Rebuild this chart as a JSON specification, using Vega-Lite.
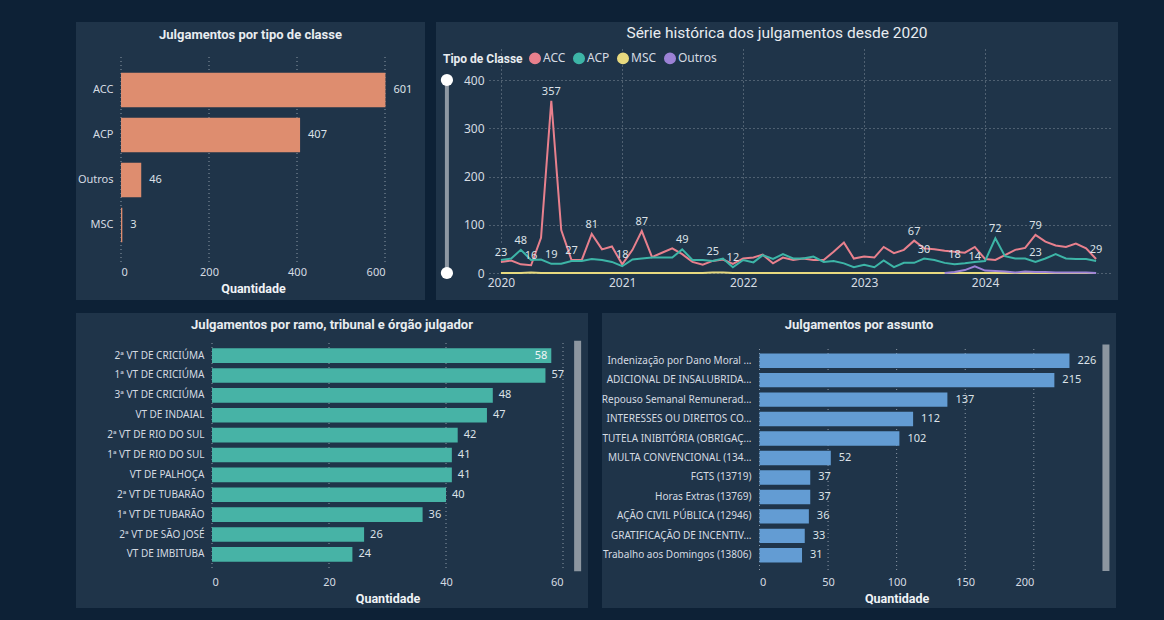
{
  "$schema": "https://vega.github.io/schema/vega-lite/v6.json",
  "background": "#0d2136",
  "padding": {"left": 76, "top": 22, "right": 46, "bottom": 12},
  "config": {
    "font": "Noto Sans",
    "view": {"fill": "#1f3449", "stroke": null},
    "axis": {
      "labelColor": "#D5DBE2", "labelFont": "Noto Sans", "labelFontSize": 11,
      "titleColor": "#F0F3F6", "titleFont": "Roboto", "titleFontWeight": "bold", "titleFontSize": 12.5,
      "gridColor": "#A9B3BE", "gridDash": [1, 3], "gridOpacity": 0.7,
      "domain": false, "ticks": false
    },
    "title": {"color": "#E8ECF0", "font": "Roboto", "fontWeight": "bold", "fontSize": 13, "frame": "group", "anchor": "middle"}
  },
  "datasets": {
    "classe": [
      {"classe": "ACC", "qtd": 601},
      {"classe": "ACP", "qtd": 407},
      {"classe": "Outros", "qtd": 46},
      {"classe": "MSC", "qtd": 3}
    ],
    "orgao": [
      {"orgao": "2ª VT DE CRICIÚMA", "qtd": 58},
      {"orgao": "1ª VT DE CRICIÚMA", "qtd": 57},
      {"orgao": "3ª VT DE CRICIÚMA", "qtd": 48},
      {"orgao": "VT DE INDAIAL", "qtd": 47},
      {"orgao": "2ª VT DE RIO DO SUL", "qtd": 42},
      {"orgao": "1ª VT DE RIO DO SUL", "qtd": 41},
      {"orgao": "VT DE PALHOÇA", "qtd": 41},
      {"orgao": "2ª VT DE TUBARÃO", "qtd": 40},
      {"orgao": "1ª VT DE TUBARÃO", "qtd": 36},
      {"orgao": "2ª VT DE SÃO JOSÉ", "qtd": 26},
      {"orgao": "VT DE IMBITUBA", "qtd": 24}
    ],
    "assunto": [
      {"assunto": "Indenização por Dano Moral ...", "qtd": 226},
      {"assunto": "ADICIONAL DE INSALUBRIDA...", "qtd": 215},
      {"assunto": "Repouso Semanal Remunerad...", "qtd": 137},
      {"assunto": "INTERESSES OU DIREITOS CO...", "qtd": 112},
      {"assunto": "TUTELA INIBITÓRIA (OBRIGAÇ...", "qtd": 102},
      {"assunto": "MULTA CONVENCIONAL (134...", "qtd": 52},
      {"assunto": "FGTS (13719)", "qtd": 37},
      {"assunto": "Horas Extras (13769)", "qtd": 37},
      {"assunto": "AÇÃO CIVIL PÚBLICA (12946)", "qtd": 36},
      {"assunto": "GRATIFICAÇÃO DE INCENTIV...", "qtd": 33},
      {"assunto": "Trabalho aos Domingos (13806)", "qtd": 31}
    ],
    "serie": [
      {"mes": "2020-01-01", "ACC": 23, "ACP": 27, "MSC": 0, "Outros": null},
      {"mes": "2020-02-01", "ACC": 26, "ACP": 30, "MSC": 0, "Outros": null},
      {"mes": "2020-03-01", "ACC": 18, "ACP": 48, "MSC": 0, "Outros": null},
      {"mes": "2020-04-01", "ACC": 16, "ACP": 27, "MSC": 1, "Outros": null},
      {"mes": "2020-05-01", "ACC": 73, "ACP": 28, "MSC": 0, "Outros": null},
      {"mes": "2020-06-01", "ACC": 357, "ACP": 19, "MSC": 0, "Outros": null},
      {"mes": "2020-07-01", "ACC": 89, "ACP": 19, "MSC": 0, "Outros": null},
      {"mes": "2020-08-01", "ACC": 27, "ACP": 25, "MSC": 0, "Outros": null},
      {"mes": "2020-09-01", "ACC": 27, "ACP": 25, "MSC": 0, "Outros": null},
      {"mes": "2020-10-01", "ACC": 81, "ACP": 29, "MSC": 0, "Outros": null},
      {"mes": "2020-11-01", "ACC": 49, "ACP": 27, "MSC": 0, "Outros": null},
      {"mes": "2020-12-01", "ACC": 55, "ACP": 23, "MSC": 0, "Outros": null},
      {"mes": "2021-01-01", "ACC": 18, "ACP": 14, "MSC": 0, "Outros": null},
      {"mes": "2021-02-01", "ACC": 48, "ACP": 28, "MSC": 0, "Outros": null},
      {"mes": "2021-03-01", "ACC": 87, "ACP": 30, "MSC": 0, "Outros": null},
      {"mes": "2021-04-01", "ACC": 33, "ACP": 32, "MSC": 0, "Outros": null},
      {"mes": "2021-05-01", "ACC": 42, "ACP": 32, "MSC": 0, "Outros": null},
      {"mes": "2021-06-01", "ACC": 51, "ACP": 32, "MSC": 0, "Outros": null},
      {"mes": "2021-07-01", "ACC": 39, "ACP": 49, "MSC": 0, "Outros": null},
      {"mes": "2021-08-01", "ACC": 23, "ACP": 27, "MSC": 0, "Outros": null},
      {"mes": "2021-09-01", "ACC": 17, "ACP": 27, "MSC": 0, "Outros": null},
      {"mes": "2021-10-01", "ACC": 25, "ACP": 25, "MSC": 1, "Outros": null},
      {"mes": "2021-11-01", "ACC": 28, "ACP": 30, "MSC": 1, "Outros": null},
      {"mes": "2021-12-01", "ACC": 19, "ACP": 12, "MSC": 0, "Outros": null},
      {"mes": "2022-01-01", "ACC": 30, "ACP": 27, "MSC": 0, "Outros": null},
      {"mes": "2022-02-01", "ACC": 32, "ACP": 22, "MSC": 0, "Outros": null},
      {"mes": "2022-03-01", "ACC": 38, "ACP": 37, "MSC": 0, "Outros": null},
      {"mes": "2022-04-01", "ACC": 20, "ACP": 29, "MSC": 0, "Outros": null},
      {"mes": "2022-05-01", "ACC": 32, "ACP": 39, "MSC": 0, "Outros": null},
      {"mes": "2022-06-01", "ACC": 27, "ACP": 30, "MSC": 0, "Outros": null},
      {"mes": "2022-07-01", "ACC": 30, "ACP": 30, "MSC": 0, "Outros": null},
      {"mes": "2022-08-01", "ACC": 27, "ACP": 34, "MSC": 0, "Outros": null},
      {"mes": "2022-09-01", "ACC": 27, "ACP": 23, "MSC": 0, "Outros": null},
      {"mes": "2022-10-01", "ACC": 44, "ACP": 25, "MSC": 0, "Outros": null},
      {"mes": "2022-11-01", "ACC": 63, "ACP": 20, "MSC": 0, "Outros": null},
      {"mes": "2022-12-01", "ACC": 30, "ACP": 12, "MSC": 0, "Outros": null},
      {"mes": "2023-01-01", "ACC": 34, "ACP": 17, "MSC": 0, "Outros": null},
      {"mes": "2023-02-01", "ACC": 32, "ACP": 12, "MSC": 0, "Outros": null},
      {"mes": "2023-03-01", "ACC": 54, "ACP": 26, "MSC": 0, "Outros": null},
      {"mes": "2023-04-01", "ACC": 41, "ACP": 12, "MSC": 0, "Outros": null},
      {"mes": "2023-05-01", "ACC": 48, "ACP": 21, "MSC": 0, "Outros": null},
      {"mes": "2023-06-01", "ACC": 67, "ACP": 21, "MSC": 0, "Outros": null},
      {"mes": "2023-07-01", "ACC": 51, "ACP": 30, "MSC": 0, "Outros": null},
      {"mes": "2023-08-01", "ACC": 49, "ACP": 27, "MSC": 0, "Outros": null},
      {"mes": "2023-09-01", "ACC": 46, "ACP": 21, "MSC": 0, "Outros": 0},
      {"mes": "2023-10-01", "ACC": 44, "ACP": 18, "MSC": 0, "Outros": 2},
      {"mes": "2023-11-01", "ACC": 42, "ACP": 20, "MSC": 0, "Outros": 6},
      {"mes": "2023-12-01", "ACC": 54, "ACP": 23, "MSC": 0, "Outros": 14},
      {"mes": "2024-01-01", "ACC": 29, "ACP": 25, "MSC": 0, "Outros": 5},
      {"mes": "2024-02-01", "ACC": 27, "ACP": 72, "MSC": 0, "Outros": 4},
      {"mes": "2024-03-01", "ACC": 37, "ACP": 35, "MSC": 0, "Outros": 3},
      {"mes": "2024-04-01", "ACC": 48, "ACP": 30, "MSC": 0, "Outros": 1},
      {"mes": "2024-05-01", "ACC": 52, "ACP": 30, "MSC": 0, "Outros": 3},
      {"mes": "2024-06-01", "ACC": 79, "ACP": 23, "MSC": 0, "Outros": 2},
      {"mes": "2024-07-01", "ACC": 65, "ACP": 30, "MSC": 0, "Outros": 2},
      {"mes": "2024-08-01", "ACC": 57, "ACP": 39, "MSC": 0, "Outros": 1},
      {"mes": "2024-09-01", "ACC": 54, "ACP": 30, "MSC": 0, "Outros": 1},
      {"mes": "2024-10-01", "ACC": 61, "ACP": 29, "MSC": 0, "Outros": 1},
      {"mes": "2024-11-01", "ACC": 51, "ACP": 29, "MSC": 0, "Outros": 1},
      {"mes": "2024-12-01", "ACC": 29, "ACP": 25, "MSC": 0, "Outros": 0}
    ],
    "rotulos": [
      {"mes": "2020-01-01", "tipo": "ACC", "qtd": 23},
      {"mes": "2020-03-01", "tipo": "ACP", "qtd": 48},
      {"mes": "2020-04-01", "tipo": "ACC", "qtd": 16},
      {"mes": "2020-06-01", "tipo": "ACC", "qtd": 357},
      {"mes": "2020-06-01", "tipo": "ACP", "qtd": 19},
      {"mes": "2020-08-01", "tipo": "ACC", "qtd": 27},
      {"mes": "2020-10-01", "tipo": "ACC", "qtd": 81},
      {"mes": "2021-01-01", "tipo": "ACC", "qtd": 18},
      {"mes": "2021-03-01", "tipo": "ACC", "qtd": 87},
      {"mes": "2021-07-01", "tipo": "ACP", "qtd": 49},
      {"mes": "2021-10-01", "tipo": "ACC", "qtd": 25},
      {"mes": "2021-12-01", "tipo": "ACP", "qtd": 12},
      {"mes": "2023-06-01", "tipo": "ACC", "qtd": 67},
      {"mes": "2023-07-01", "tipo": "ACP", "qtd": 30},
      {"mes": "2023-10-01", "tipo": "ACP", "qtd": 18},
      {"mes": "2023-12-01", "tipo": "Outros", "qtd": 14},
      {"mes": "2024-02-01", "tipo": "ACP", "qtd": 72},
      {"mes": "2024-06-01", "tipo": "ACC", "qtd": 79},
      {"mes": "2024-06-01", "tipo": "ACP", "qtd": 23},
      {"mes": "2024-12-01", "tipo": "ACC", "qtd": 29}
    ]
  },
  "vconcat": [
    {
      "hconcat": [
        {
          "width": 349, "height": 278,
          "title": {"text": "Julgamentos por tipo de classe", "offset": -20},
          "layer": [
            {
              "data": {"values": [{"marca": 0}, {"marca": 200}, {"marca": 400}, {"marca": 600}]},
              "mark": {"type": "rule", "color": "#A9B3BE", "opacity": 0.8, "strokeDash": [1, 3], "strokeWidth": 1},
              "encoding": {
                "x": {"field": "marca", "type": "quantitative",
                  "axis": {"title": "Quantidade", "values": [0, 200, 400, 600], "offset": -37, "labelPadding": 3, "titlePadding": 5, "grid": false}},
                "y": {"datum": 0, "type": "quantitative", "scale": {"domain": [0, 1], "range": [35, 241], "nice": false, "zero": false}, "axis": null},
                "y2": {"datum": 1}
              }
            },
            {
              "data": {"name": "classe"},
              "encoding": {
                "y": {"field": "classe", "type": "nominal", "sort": null,
                  "scale": {"range": [35, 236], "paddingInner": 0.233, "paddingOuter": 0.35},
                  "axis": {"title": null, "offset": -45, "labelPadding": 8, "grid": false, "labelFontSize": 11}},
                "x": {"field": "qtd", "type": "quantitative",
                  "scale": {"domain": [0, 600], "range": [45, 309], "nice": false},
                  "axis": {"title": "Quantidade", "values": [0, 200, 400, 600], "offset": -37, "labelPadding": 3, "titlePadding": 5, "grid": false}}
              },
              "layer": [
                {"mark": {"type": "bar", "color": "#DE8D6F"}},
                {"mark": {"type": "text", "align": "left", "baseline": "middle", "dx": 8, "color": "#DCE2E8", "fontSize": 11},
                  "encoding": {"text": {"field": "qtd", "type": "quantitative"}}}
              ]
            }
          ],
          "resolve": {"scale": {"y": "independent"}}
        },
        {
          "width": 682, "height": 278,
          "title": {"text": "Série histórica dos julgamentos desde 2020", "offset": -19, "fontSize": 15.5, "fontWeight": "normal"},
          "layer": [
            {
              "data": {"name": "serie"},
              "transform": [
                {"fold": ["ACC", "ACP", "MSC", "Outros"], "as": ["tipo", "qtd"]},
                {"filter": "isValid(datum.qtd)"}
              ],
              "mark": {"type": "line", "strokeWidth": 2},
              "encoding": {
                "x": {"field": "mes", "type": "temporal",
                  "scale": {"type": "utc", "domain": [{"year": 2019, "month": 11, "date": 26, "utc": true}, {"year": 2025, "month": 1, "date": 12, "utc": true}], "range": [53, 674]},
                  "axis": {"title": null, "format": "%Y", "labelFlush": false, "offset": -26, "labelPadding": 3, "labelFontSize": 12,
                    "values": [{"year": 2020, "utc": true}, {"year": 2021, "utc": true}, {"year": 2022, "utc": true}, {"year": 2023, "utc": true}, {"year": 2024, "utc": true}]}},
                "y": {"field": "qtd", "type": "quantitative",
                  "scale": {"domain": [0, 400], "range": [251, 58], "nice": false},
                  "axis": {"title": null, "values": [0, 100, 200, 300, 400], "offset": -53, "labelPadding": 5, "labelFontSize": 12}},
                "color": {"field": "tipo", "type": "nominal",
                  "scale": {"domain": ["ACC", "ACP", "MSC", "Outros"], "range": ["#E8808D", "#3DB5A7", "#E8DA7F", "#9C82D6"]},
                  "legend": {"title": "Tipo de Classe", "orient": "none", "legendX": 367, "legendY": 30, "direction": "horizontal", "titleOrient": "left",
                    "titleFont": "Roboto", "titleFontWeight": "bold", "titleFontSize": 12, "titleColor": "#E8ECF0", "titlePadding": 6,
                    "labelFont": "Noto Sans", "labelFontSize": 12, "labelColor": "#D5DBE2", "labelOffset": 2, "columnPadding": 4,
                    "symbolType": "circle", "symbolSize": 110,
                    "encode": {"symbols": {"update": {"fill": {"signal": "datum.value === 'ACC' ? '#E8808D' : datum.value === 'ACP' ? '#3DB5A7' : datum.value === 'MSC' ? '#E8DA7F' : '#9C82D6'"}, "stroke": {"value": "transparent"}, "opacity": {"value": 1}}}}}}
              }
            },
            {
              "data": {"name": "rotulos"},
              "mark": {"type": "text", "dy": -9, "color": "#DCE2E8", "fontSize": 11},
              "encoding": {
                "x": {"field": "mes", "type": "temporal"},
                "y": {"field": "qtd", "type": "quantitative"},
                "text": {"field": "qtd", "type": "quantitative"}
              }
            },
            {
              "data": {"values": [{}]},
              "mark": {"type": "rule", "color": "#8E98A3", "strokeWidth": 4},
              "encoding": {
                "x": {"datum": {"year": 2019, "month": 7, "date": 22, "utc": true}, "type": "temporal"},
                "y": {"datum": 0, "type": "quantitative"},
                "y2": {"datum": 400}
              }
            },
            {
              "data": {"values": [{}]},
              "mark": {"type": "point", "filled": true, "color": "#FFFFFF", "size": 150, "opacity": 1},
              "encoding": {
                "x": {"datum": {"year": 2019, "month": 7, "date": 22, "utc": true}, "type": "temporal"},
                "y": {"datum": 0, "type": "quantitative"}
              }
            },
            {
              "data": {"values": [{}]},
              "mark": {"type": "point", "filled": true, "color": "#FFFFFF", "size": 150, "opacity": 1},
              "encoding": {
                "x": {"datum": {"year": 2019, "month": 7, "date": 22, "utc": true}, "type": "temporal"},
                "y": {"datum": 400, "type": "quantitative"}
              }
            }
          ]
        }
      ],
      "spacing": 11
    },
    {
      "hconcat": [
        {
          "width": 512, "height": 295,
          "title": {"text": "Julgamentos por ramo, tribunal e órgão julgador", "offset": -19},
          "layer": [
            {
              "data": {"values": [{"marca": 0}, {"marca": 20}, {"marca": 40}, {"marca": 60}]},
              "mark": {"type": "rule", "color": "#A9B3BE", "opacity": 0.8, "strokeDash": [1, 3], "strokeWidth": 1},
              "encoding": {
                "x": {"field": "marca", "type": "quantitative",
                  "axis": {"title": "Quantidade", "values": [0, 20, 40, 60], "offset": -35, "labelPadding": 3, "titlePadding": 5, "grid": false}},
                "y": {"datum": 0, "type": "quantitative", "scale": {"domain": [0, 1], "range": [30, 257], "nice": false, "zero": false}, "axis": null},
                "y2": {"datum": 1}
              }
            },
            {
              "data": {"values": [{}]},
              "mark": {"type": "rule", "color": "#8C96A0", "strokeWidth": 7},
              "encoding": {
                "x": {"datum": 62.5, "type": "quantitative",
                  "axis": {"title": "Quantidade", "values": [0, 20, 40, 60], "offset": -35, "labelPadding": 3, "titlePadding": 5, "grid": false}},
                "y": {"datum": -0.01, "type": "quantitative", "scale": {"domain": [0, 1], "range": [30, 257], "nice": false, "zero": false}, "axis": null},
                "y2": {"datum": 1.005}
              }
            },
            {
              "data": {"name": "orgao"},
              "encoding": {
                "y": {"field": "orgao", "type": "nominal", "sort": null,
                  "scale": {"range": [30, 254], "paddingInner": 0.27, "paddingOuter": 0.27},
                  "axis": {"title": null, "offset": -136, "labelPadding": 8, "grid": false, "labelFontSize": 10}},
                "x": {"field": "qtd", "type": "quantitative",
                  "scale": {"domain": [0, 60], "range": [136, 487], "nice": false},
                  "axis": {"title": "Quantidade", "values": [0, 20, 40, 60], "offset": -35, "labelPadding": 3, "titlePadding": 5, "grid": false}}
              },
              "layer": [
                {"mark": {"type": "bar", "color": "#47B3A6"}},
                {"transform": [{"filter": "datum.qtd < 58"}],
                  "mark": {"type": "text", "align": "left", "baseline": "middle", "dx": 6, "color": "#DCE2E8", "fontSize": 11},
                  "encoding": {"text": {"field": "qtd", "type": "quantitative"}}},
                {"transform": [{"filter": "datum.qtd >= 58"}],
                  "mark": {"type": "text", "align": "right", "baseline": "middle", "dx": -4, "color": "#F2F5F7", "fontSize": 11},
                  "encoding": {"text": {"field": "qtd", "type": "quantitative"}}}
              ]
            }
          ],
          "resolve": {"scale": {"y": "independent"}}
        },
        {
          "width": 514, "height": 295,
          "title": {"text": "Julgamentos por assunto", "offset": -19},
          "layer": [
            {
              "data": {"values": [{"marca": 0}, {"marca": 50}, {"marca": 100}, {"marca": 150}, {"marca": 200}]},
              "mark": {"type": "rule", "color": "#A9B3BE", "opacity": 0.8, "strokeDash": [1, 3], "strokeWidth": 1},
              "encoding": {
                "x": {"field": "marca", "type": "quantitative",
                  "axis": {"title": "Quantidade", "values": [0, 50, 100, 150, 200], "offset": -35, "labelPadding": 3, "titlePadding": 5, "grid": false}},
                "y": {"datum": 0, "type": "quantitative", "scale": {"domain": [0, 1], "range": [36, 257], "nice": false, "zero": false}, "axis": null},
                "y2": {"datum": 1}
              }
            },
            {
              "data": {"values": [{}]},
              "mark": {"type": "rule", "color": "#8C96A0", "strokeWidth": 7},
              "encoding": {
                "x": {"datum": 252.6, "type": "quantitative",
                  "axis": {"title": "Quantidade", "values": [0, 50, 100, 150, 200], "offset": -35, "labelPadding": 3, "titlePadding": 5, "grid": false}},
                "y": {"datum": -0.02, "type": "quantitative", "scale": {"domain": [0, 1], "range": [36, 257], "nice": false, "zero": false}, "axis": null},
                "y2": {"datum": 1.005}
              }
            },
            {
              "data": {"name": "assunto"},
              "encoding": {
                "y": {"field": "assunto", "type": "nominal", "sort": null,
                  "scale": {"range": [36, 254], "paddingInner": 0.26, "paddingOuter": 0.23},
                  "axis": {"title": null, "offset": -157, "labelPadding": 8, "grid": false, "labelFontSize": 10, "labelLimit": 200}},
                "x": {"field": "qtd", "type": "quantitative",
                  "scale": {"domain": [0, 200], "range": [157.5, 431.8], "nice": false},
                  "axis": {"title": "Quantidade", "values": [0, 50, 100, 150, 200], "offset": -35, "labelPadding": 3, "titlePadding": 5, "grid": false}}
              },
              "layer": [
                {"mark": {"type": "bar", "color": "#639CD3"}},
                {"mark": {"type": "text", "align": "left", "baseline": "middle", "dx": 8, "color": "#DCE2E8", "fontSize": 11},
                  "encoding": {"text": {"field": "qtd", "type": "quantitative"}}}
              ]
            }
          ],
          "resolve": {"scale": {"y": "independent"}}
        }
      ],
      "spacing": 13
    }
  ],
  "spacing": 13
}
